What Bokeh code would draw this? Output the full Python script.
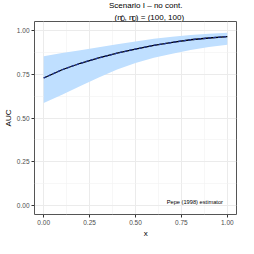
from bokeh.plotting import figure
from bokeh.layouts import column
from bokeh.models import Range1d, FixedTicker, Label
from bokeh.embed import file_html
from bokeh.resources import INLINE

# ---- data ----
x_vals = [0.0, 0.1, 0.2, 0.3, 0.4, 0.5, 0.6, 0.7, 0.8, 0.9, 1.0]
auc_est = [0.728, 0.775, 0.812, 0.843, 0.870, 0.893, 0.914, 0.931, 0.946, 0.956, 0.964]
auc_true = [0.728, 0.775, 0.812, 0.843, 0.870, 0.893, 0.914, 0.931, 0.946, 0.956, 0.964]
band_upper = [0.852, 0.870, 0.886, 0.903, 0.920, 0.936, 0.951, 0.963, 0.973, 0.980, 0.986]
band_lower = [0.585, 0.632, 0.683, 0.731, 0.776, 0.813, 0.843, 0.866, 0.888, 0.905, 0.918]
tick_values = [0.0, 0.25, 0.5, 0.75, 1.0]
minor_values = [0.125, 0.375, 0.625, 0.875]
tick_labels = ["0.00", "0.25", "0.50", "0.75", "1.00"]
title_line1 = "Scenario I \u2013 no cont."
x_label = "x"
y_label = "AUC"
annotation_text = "Pepe (1998) estimator"

FONT = "Liberation Sans"
W = 238
TH = 21          # title strip height
BH = 11          # bottom strip (x-axis title) height
MH = 238 - TH - BH
CX = 131         # horizontal centre of the panel (figure px)


def strip(height):
    f = figure(width=W, height=height, output_backend="svg", toolbar_location=None,
               x_range=Range1d(0, W), y_range=Range1d(height, 0),
               min_border=0, min_border_left=0, min_border_right=0,
               min_border_top=0, min_border_bottom=0)
    f.axis.visible = False
    f.grid.visible = False
    f.outline_line_color = None
    return f


# ---- title strip ----
t = strip(TH)
t.add_layout(Label(x=CX, y=4.5, text=title_line1, text_font=FONT,
                   text_font_size="8px", text_align="center",
                   text_baseline="middle", text_color="black"))

EM = {"(": .333, ")": .333, "n": .556, ",": .278, " ": .278, "=": .584,
      "1": .556, "0": .556, "D": .722}
def wid(s, size):
    return sum(EM.get(c, 0.0) for c in s) * size

MAIN, SUB = 8.0, 6.3
pieces = [("(n", MAIN, 0), ("D\u0304", SUB, 1.8), (", n", MAIN, 0), ("D", SUB, 1.8),
          (") = (100, 100)", MAIN, 0)]
total = sum(wid(s, sz) for s, sz, _ in pieces)
cur = CX - total / 2
for s, sz, dy in pieces:
    t.add_layout(Label(x=cur, y=16.5 + dy, text=s,
                       text_font=FONT, text_font_size=f"{sz}px",
                       text_align="left", text_baseline="alphabetic",
                       text_color="black"))
    cur += wid(s, sz)

# ---- main panel ----
p = figure(width=W, height=MH, output_backend="svg", toolbar_location=None,
           x_range=Range1d(-0.05, 1.05), y_range=Range1d(-0.05, 1.05),
           min_border_top=0, min_border_bottom=0,
           min_border_left=0, min_border_right=2,
           background_fill_color="white", border_fill_color="white")

p.varea(x=x_vals, y1=band_lower, y2=band_upper, fill_color="#BFDFFF")
p.line(x_vals, auc_true, line_color="black", line_width=1.3)
p.line(x_vals, auc_est, line_color="#1F3596", line_width=1.3, line_dash="3 2")

ticker = FixedTicker(ticks=tick_values, minor_ticks=minor_values)
for ax in (p.xaxis[0], p.yaxis[0]):
    ax.ticker = ticker
    ax.major_label_overrides = {v: s for v, s in zip(tick_values, tick_labels)}
    ax.axis_line_color = None
    ax.major_tick_line_color = "#333333"
    ax.major_tick_out = 3
    ax.major_tick_in = 0
    ax.minor_tick_line_color = None
    ax.major_label_text_font = FONT
    ax.major_label_text_font_size = "6.5px"
    ax.major_label_text_line_height = 1.0
    ax.major_label_text_color = "#4D4D4D"
    ax.major_label_standoff = 1
    ax.axis_label_text_font = FONT
    ax.axis_label_text_font_size = "8px"
    ax.axis_label_text_line_height = 1.0
    ax.axis_label_text_font_style = "normal"
    ax.axis_label_text_color = "black"
    ax.axis_label_standoff = 1
p.yaxis.axis_label = y_label

for g in (p.xgrid[0], p.ygrid[0]):
    g.ticker = ticker
    g.grid_line_color = "#EBEBEB"
    g.grid_line_width = 1
    g.minor_grid_line_color = "#F2F2F2"
    g.minor_grid_line_width = 0.6

p.outline_line_color = "#555555"
p.outline_line_width = 1

p.add_layout(Label(x=0.823, y=0.019, text=annotation_text, text_font=FONT,
                   text_font_size="5.7px", text_align="center",
                   text_baseline="middle", text_color="black"))

# ---- bottom strip with the x-axis title ----
b = strip(BH)
b.add_layout(Label(x=CX, y=5, text=x_label, text_font=FONT,
                   text_font_size="8px", text_align="center",
                   text_baseline="middle", text_color="black"))

layout = column(t, p, b, spacing=0)
open("out.html", "w").write(file_html(layout, INLINE))
